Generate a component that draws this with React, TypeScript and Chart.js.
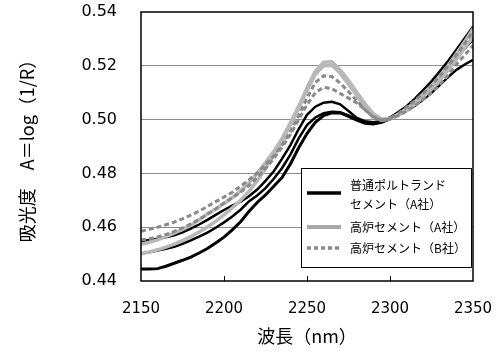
import { useEffect, useRef } from "react";
import { Chart, registerables } from "chart.js";

Chart.register(...registerables);

// Wavelength grid (nm)
const wavelengths = [
  2150, 2155, 2160, 2165, 2170, 2175, 2180, 2185, 2190, 2195,
  2200, 2205, 2210, 2215, 2220, 2225, 2230, 2235, 2240, 2245,
  2250, 2255, 2260, 2265, 2270, 2275, 2280, 2285, 2290, 2295,
  2300, 2305, 2310, 2315, 2320, 2325, 2330, 2335, 2340, 2345, 2350,
];

// 普通ポルトランドセメント（A社） — three specimens
const ordinaryA1 = [
  0.4445, 0.4445, 0.4446, 0.4455, 0.4466, 0.4477, 0.4489, 0.4504, 0.4521, 0.4541,
  0.4563, 0.4590, 0.4620, 0.4658, 0.4692, 0.4720, 0.4752, 0.4785, 0.4835, 0.4895,
  0.4948, 0.4990, 0.5015, 0.5025, 0.5025, 0.5012, 0.4998, 0.4986, 0.4984, 0.4990,
  0.5003, 0.5020, 0.5040, 0.5065, 0.5093, 0.5122, 0.5155, 0.5192, 0.5230, 0.5265, 0.5300,
];
const ordinaryA2 = [
  0.4502, 0.4507, 0.4513, 0.4520, 0.4527, 0.4538, 0.4551, 0.4565, 0.4580, 0.4598,
  0.4618, 0.4640, 0.4665, 0.4696, 0.4718, 0.4745, 0.4780, 0.4820, 0.4870, 0.4930,
  0.4980, 0.5008, 0.5024, 0.5029, 0.5027, 0.5016, 0.5001, 0.4990, 0.4986, 0.4991,
  0.5002, 0.5016, 0.5032, 0.5052, 0.5075, 0.5100, 0.5128, 0.5158, 0.5185, 0.5205, 0.5222,
];
const ordinaryA3 = [
  0.4548, 0.4552, 0.4557, 0.4563, 0.4570, 0.4581, 0.4595, 0.4610, 0.4627, 0.4646,
  0.4664, 0.4680, 0.4695, 0.4715, 0.4740, 0.4772, 0.4808, 0.4855, 0.4905, 0.4965,
  0.5018, 0.5048, 0.5063, 0.5066, 0.5057, 0.5032, 0.5006, 0.4994, 0.4990, 0.4995,
  0.5008, 0.5028, 0.5050, 0.5078, 0.5110, 0.5142, 0.5180, 0.5218, 0.5260, 0.5302, 0.5345,
];

// 高炉セメント（A社） — two specimens
const slagA1 = [
  0.4536, 0.4544, 0.4553, 0.4565, 0.4578, 0.4592, 0.4607, 0.4627, 0.4650, 0.4668,
  0.4688, 0.4710, 0.4735, 0.4765, 0.4800, 0.4840, 0.4882, 0.4930, 0.4988, 0.5050,
  0.5118, 0.5180, 0.5213, 0.5215, 0.5185, 0.5145, 0.5102, 0.5058, 0.5022, 0.5002,
  0.5004, 0.5020, 0.5040, 0.5065, 0.5095, 0.5126, 0.5160, 0.5200, 0.5245, 0.5290, 0.5338,
];
const slagA2 = [
  0.4502, 0.4508, 0.4516, 0.4526, 0.4537, 0.4550, 0.4565, 0.4582, 0.4601, 0.4622,
  0.4646, 0.4672, 0.4700, 0.4733, 0.4772, 0.4818, 0.4868, 0.4922, 0.4980, 0.5042,
  0.5108, 0.5168, 0.5200, 0.5202, 0.5172, 0.5132, 0.5090, 0.5048, 0.5014, 0.4997,
  0.5002, 0.5016, 0.5034, 0.5057, 0.5084, 0.5113, 0.5147, 0.5185, 0.5225, 0.5266, 0.5308,
];

// 高炉セメント（B社） — two specimens
const slagB1 = [
  0.4585, 0.4592, 0.4600, 0.4609, 0.4619, 0.4631, 0.4645, 0.4660, 0.4677, 0.4695,
  0.4712, 0.4730, 0.4752, 0.4776, 0.4802, 0.4832, 0.4866, 0.4905, 0.4955, 0.5015,
  0.5080, 0.5138, 0.5163, 0.5160, 0.5136, 0.5104, 0.5070, 0.5036, 0.5008, 0.4996,
  0.5004, 0.5023, 0.5046, 0.5070, 0.5098, 0.5128, 0.5162, 0.5200, 0.5240, 0.5282, 0.5328,
];
const slagB2 = [
  0.4552, 0.4557, 0.4564, 0.4573, 0.4584, 0.4597, 0.4612, 0.4629, 0.4648, 0.4668,
  0.4690, 0.4710, 0.4730, 0.4755, 0.4785, 0.4818, 0.4855, 0.4898, 0.4945, 0.5000,
  0.5055, 0.5100, 0.5120, 0.5115, 0.5097, 0.5080, 0.5062, 0.5036, 0.5010, 0.4998,
  0.5002, 0.5015, 0.5032, 0.5052, 0.5075, 0.5100, 0.5130, 0.5165, 0.5205, 0.5240, 0.5275,
];

const legendOrdinary = ["普通ポルトランド", "セメント（A社）"];
const legendSlagA = "高炉セメント（A社）";
const legendSlagB = "高炉セメント（B社）";
const xTitle = "波長（nm）";
const yTitle = "吸光度　A＝log（1/R）";

const BLACK = "#000000";
const LIGHT = "#b8b8b8";
const DOTTED = "#8a8a8a";
const DASH = [5, 3];
const CJK = "'Noto Sans CJK JP', sans-serif";
const NUM = "'DejaVu Sans', sans-serif";

const toPoints = (ys: number[]) => ys.map((y, i) => ({ x: wavelengths[i], y }));

// Frame, inward x tick marks and the in-plot legend
const decorPlugin = {
  id: "decor",
  afterDraw(chart: any) {
    const { ctx, chartArea: a, scales } = chart;
    ctx.save();

    ctx.strokeStyle = "#000";
    ctx.lineWidth = 1;
    for (const t of scales.x.ticks) {
      if (t.value <= scales.x.min || t.value >= scales.x.max) continue;
      const px = Math.round(scales.x.getPixelForValue(t.value)) + 0.5;
      ctx.beginPath();
      ctx.moveTo(px, a.bottom);
      ctx.lineTo(px, a.bottom - 5);
      ctx.stroke();
    }

    ctx.lineWidth = 1.5;
    ctx.strokeRect(a.left, a.top, a.right - a.left, a.bottom - a.top);

    // legend box
    const bw = 171;
    const bh = 100;
    const bx = a.right - bw - 1;
    const by = a.top + 156;
    ctx.fillStyle = "#fff";
    ctx.fillRect(bx, by, bw, bh);
    ctx.lineWidth = 1;
    ctx.strokeStyle = "#000";
    ctx.strokeRect(bx + 0.5, by + 0.5, bw - 1, bh - 1);

    const sx0 = bx + 6;
    const sx1 = bx + 40;
    const tx = bx + 49;
    const sample = (y: number, color: string, width: number, dash: number[]) => {
      ctx.save();
      ctx.strokeStyle = color;
      ctx.lineWidth = width;
      ctx.setLineDash(dash);
      ctx.beginPath();
      ctx.moveTo(sx0, y);
      ctx.lineTo(sx1, y);
      ctx.stroke();
      ctx.restore();
    };
    sample(by + 25, BLACK, 3.5, []);
    sample(by + 59, "#a8a8a8", 4, []);
    sample(by + 80, DOTTED, 3.5, [4, 3]);

    ctx.fillStyle = "#000";
    ctx.font = `12px ${CJK}`;
    ctx.textAlign = "left";
    ctx.textBaseline = "middle";
    ctx.fillText(legendOrdinary[0], tx, by + 17);
    ctx.fillText(legendOrdinary[1], tx, by + 36);
    ctx.fillText(legendSlagA, tx, by + 59);
    ctx.fillText(legendSlagB, tx, by + 80);

    ctx.restore();
  },
};

export default function App() {
  const canvasRef = useRef<HTMLCanvasElement | null>(null);

  useEffect(() => {
    const canvas = canvasRef.current;
    if (!canvas) return;

    const line = (data: number[], color: string, width: number, dash: number[] = []) => ({
      data: toPoints(data),
      borderColor: color,
      borderWidth: width,
      borderDash: dash,
      pointRadius: 0,
      tension: 0,
      fill: false,
    });

    const chart = new Chart(canvas, {
      type: "line",
      data: {
        datasets: [
          // first entries are painted last (on top)
          line(slagB1, DOTTED, 3, DASH),
          line(slagB2, DOTTED, 3, DASH),
          line(slagA1, LIGHT, 3.5),
          line(slagA2, LIGHT, 3.5),
          line(ordinaryA3, BLACK, 2.5),
          line(ordinaryA2, BLACK, 2.5),
          line(ordinaryA1, BLACK, 3),
        ],
      },
      options: {
        responsive: false,
        animation: false,
        events: [],
        layout: { padding: { left: 0, right: 25, top: 12, bottom: 0 } },
        plugins: {
          legend: { display: false },
          tooltip: { enabled: false },
        },
        scales: {
          x: {
            type: "linear",
            min: 2150,
            max: 2350,
            afterFit: (axis: any) => {
              axis.height = 75;
              axis.paddingLeft = 0;
              axis.paddingRight = 0;
            },
            ticks: {
              stepSize: 50,
              padding: 19,
              color: "#000",
              font: { family: NUM, size: 15 },
              maxRotation: 0,
              callback: (v: any) => String(v),
            },
            grid: { display: false, drawTicks: false },
            border: { display: false },
            title: {
              display: true,
              text: xTitle,
              color: "#000",
              font: { family: CJK, size: 18 },
              padding: { top: 0, bottom: 9 },
            },
          },
          y: {
            type: "linear",
            min: 0.44,
            max: 0.54,
            afterFit: (axis: any) => {
              axis.width = 141;
              axis.paddingTop = 0;
              axis.paddingBottom = 0;
            },
            ticks: {
              stepSize: 0.02,
              padding: 24,
              color: "#000",
              font: { family: NUM, size: 16 },
              callback: (v: any) => Number(v).toFixed(2),
            },
            grid: {
              drawTicks: false,
              lineWidth: 1,
              color: (c: any) =>
                c.tick && (c.tick.value <= 0.4401 || c.tick.value >= 0.5399) ? "rgba(0,0,0,0)" : "#8c8c8c",
            },
            border: { display: false },
            title: {
              display: true,
              text: yTitle,
              color: "#000",
              font: { family: CJK, size: 18 },
              padding: { top: 16, bottom: 0 },
            },
          },
        },
      },
      plugins: [decorPlugin],
    });

    return () => chart.destroy();
  }, []);

  return (
    <div style={{ position: "fixed", left: 0, top: 0, width: 498, height: 356, background: "#fff" }}>
      <canvas ref={canvasRef} width={498} height={356} />
    </div>
  );
}
